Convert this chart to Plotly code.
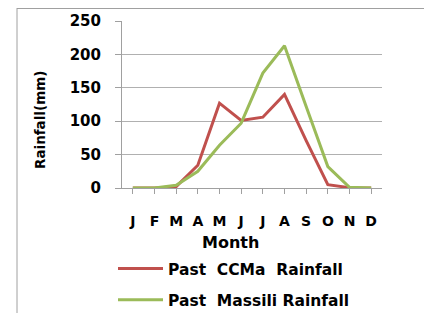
import plotly.graph_objects as go

months = ["J", "F", "M", "A", "M", "J", "J", "A", "S", "O", "N", "D"]
ccma = [0, 0, 2, 34, 127, 101, 106, 140, 71, 5, 0.5, 0]
massili = [0, 0, 4, 25, 64, 97, 172, 213, 122, 32, 1, 0]
yticks = [0, 50, 100, 150, 200, 250]

x = list(range(len(months)))
OFF = 8  # page body margin
W, H = 432 - OFF, 313 - OFF
L, R, T, B = 122 - OFF, 50, 21 - OFF, 125
pw, ph = W - L - R, H - T - B

def px(xp):
    return (xp - OFF - L) / pw

def py(yp):
    return (H - B - (yp - OFF)) / ph

fnt = "DejaVu Sans"
fig = go.Figure()
fig.add_trace(go.Scatter(x=x, y=ccma, mode="lines", name="Past  CCMa  Rainfall",
                         line=dict(color="#C0504D", width=3), legendgroup="a"))
fig.add_trace(go.Scatter(x=x, y=massili, mode="lines", name="Past  Massili Rainfall",
                         line=dict(color="#9BBB59", width=3), legendgroup="b"))

fig.update_layout(
    width=W, height=H,
    margin=dict(l=L, r=R, t=T, b=B, pad=0, autoexpand=False),
    paper_bgcolor="white", plot_bgcolor="white",
    font=dict(family=fnt, size=13, color="black", weight="bold"),
    showlegend=True,
    legend=dict(x=px(113), y=py(317), xanchor="left", yanchor="bottom",
                font=dict(family=fnt, size=15.5, weight="bold"),
                tracegroupgap=8, itemwidth=45, bgcolor="rgba(0,0,0,0)"),
    xaxis=dict(tickmode="array", tickvals=x, ticktext=months, range=[-0.5, 11.5],
               showline=True, linecolor="#a0a0a0", linewidth=1, showgrid=False,
               ticks="outside", tickson="boundaries", ticklen=5, tickcolor="#a0a0a0",
               ticklabelstandoff=15, zeroline=False, automargin=False,
               tickfont=dict(family=fnt, size=14, weight="bold")),
    yaxis=dict(tickmode="array", tickvals=yticks, range=[0, 250],
               showline=True, linecolor="#a0a0a0", linewidth=1,
               showgrid=True, gridcolor="#b0b0b0", gridwidth=1,
               ticks="outside", ticklen=6, tickcolor="#a0a0a0", zeroline=False,
               ticklabelstandoff=11, automargin=False,
               tickfont=dict(family=fnt, size=15, weight="bold")),
    annotations=[
        dict(text="Rainfall(mm)", textangle=-90, x=px(40), y=py(120), xref="paper", yref="paper",
             xanchor="center", yanchor="middle",
             showarrow=False, font=dict(family=fnt, size=13.5, weight="bold")),
        dict(text="Month", x=px(230), y=py(242), xref="paper", yref="paper",
             xanchor="center", yanchor="middle",
             showarrow=False, font=dict(family=fnt, size=16, weight="bold")),
    ],
    shapes=[
        dict(type="line", xref="paper", yref="paper", x0=px(17), x1=px(440), y0=py(8.5), y1=py(8.5),
             line=dict(color="#a0a0a0", width=1)),
        dict(type="line", xref="paper", yref="paper", x0=px(17), x1=px(17), y0=py(8), y1=py(320),
             line=dict(color="#a0a0a0", width=1)),
    ],
)

fig.write_html("out.html")
